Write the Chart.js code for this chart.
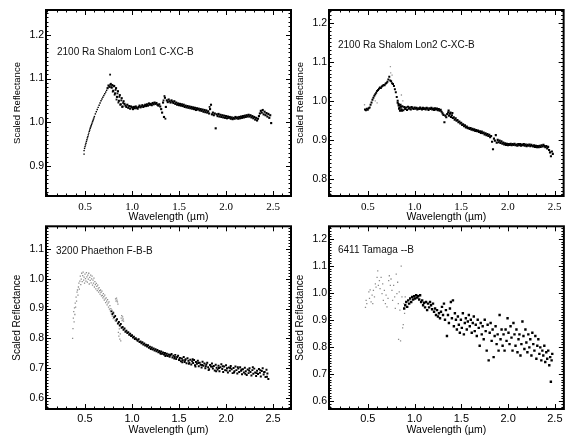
<!DOCTYPE html>
<html><head><meta charset="utf-8">
<script src="https://cdn.jsdelivr.net/npm/chart.js@4/dist/chart.umd.min.js"></script>
<style>
html,body{margin:0;padding:0;background:#fff;}
body{width:566px;height:435px;position:relative;overflow:hidden;}
canvas{position:absolute;}
</style></head><body>
<canvas id="p1" width="300" height="226" style="left:0px;top:0px"></canvas>
<canvas id="p2" width="283" height="226" style="left:283px;top:0px"></canvas>
<canvas id="p3" width="300" height="219" style="left:0px;top:218px"></canvas>
<canvas id="p4" width="283" height="219" style="left:283px;top:218px"></canvas>
<script>
// ---- tick labels ----
const xTicks = [0.5, 1.0, 1.5, 2.0, 2.5];
const p1YTicks = [0.9, 1.0, 1.1, 1.2];
const p2YTicks = [0.8, 0.9, 1.0, 1.1, 1.2];
const p3YTicks = [0.6, 0.7, 0.8, 0.9, 1.0, 1.1];
const p4YTicks = [0.6, 0.7, 0.8, 0.9, 1.0, 1.1, 1.2];
const labels = ["2100 Ra Shalom Lon1 C-XC-B", "2100 Ra Shalom Lon2 C-XC-B", "3200 Phaethon F-B-B", "6411 Tamaga --B"];

// ---- data: flat [wavelength, reflectance, ...] ----
const p1Vis = [0.49,0.935,0.49,0.927,0.495,0.940,0.50,0.944,0.505,0.948,0.51,0.952,0.515,0.956,0.52,0.960,0.525,0.964,0.53,0.967,0.535,0.971,0.54,0.975,0.545,0.979,0.55,0.982,0.555,0.986,0.56,0.989,0.565,0.992,0.57,0.995,0.575,0.998,0.58,1.001,0.585,1.004,0.59,1.007,0.595,1.010,0.60,1.013,0.61,1.019,0.62,1.024,0.63,1.029,0.64,1.034,0.65,1.039,0.66,1.044,0.67,1.049,0.68,1.053,0.69,1.057,0.70,1.061,0.71,1.065,0.72,1.069,0.73,1.073];
const p1Nir = [0.74,1.078,0.75,1.084,0.76,1.081,0.77,1.086,0.78,1.080,0.79,1.085,0.80,1.072,0.81,1.083,0.82,1.066,0.83,1.078,
0.84,1.058,0.85,1.071,0.86,1.049,0.87,1.062,0.88,1.041,0.89,1.055,0.90,1.036,0.91,1.048,0.92,1.042,0.93,1.038,
0.94,1.035,0.95,1.040,0.96,1.033,0.97,1.037,0.98,1.031,0.99,1.036,1.00,1.034,1.01,1.030,1.02,1.035,1.03,1.032,
1.04,1.036,1.05,1.033,1.06,1.031,1.07,1.035,1.08,1.038,1.09,1.034,1.10,1.036,1.11,1.039,1.12,1.035,1.13,1.037,
1.14,1.040,1.15,1.037,1.16,1.041,1.17,1.038,1.18,1.043,1.19,1.040,1.20,1.042,1.21,1.039,1.22,1.044,1.23,1.041,
1.24,1.045,1.25,1.042,1.26,1.044,1.27,1.040,1.28,1.038,1.29,1.041,1.30,1.036,1.31,1.030,1.32,1.022,1.33,1.045,
1.34,1.012,1.35,1.056,1.36,1.035,1.37,1.050,1.38,1.046,1.39,1.052,1.40,1.048,1.41,1.045,1.42,1.050,1.43,1.047,
1.44,1.044,1.45,1.048,1.46,1.042,1.47,1.045,1.48,1.040,1.49,1.043,1.50,1.039,1.51,1.042,1.52,1.038,1.53,1.041,
1.54,1.037,1.55,1.040,1.56,1.035,1.57,1.038,1.58,1.034,1.59,1.037,1.60,1.033,1.61,1.036,1.62,1.032,1.63,1.035,
1.64,1.031,1.65,1.034,1.66,1.030,1.67,1.033,1.68,1.028,1.69,1.032,1.70,1.029,1.71,1.031,1.72,1.027,1.73,1.030,
1.74,1.026,1.75,1.029,1.76,1.024,1.77,1.028,1.78,1.023,1.79,1.027,1.80,1.022,1.81,1.025,1.82,1.020,1.83,1.030,
1.84,1.040,1.85,1.018,1.86,1.022,1.87,1.016,1.88,1.020,1.89,0.986,1.90,1.018,1.91,1.014,1.92,1.019,1.93,1.013,
1.94,1.017,1.95,1.012,1.96,1.016,1.97,1.011,1.98,1.015,1.99,1.010,2.00,1.014,2.01,1.009,2.02,1.013,2.03,1.010,
2.04,1.012,2.05,1.008,2.06,1.011,2.07,1.007,2.08,1.010,2.09,1.008,2.10,1.012,2.11,1.009,2.12,1.011,2.13,1.008,
2.14,1.012,2.15,1.009,2.16,1.013,2.17,1.010,2.18,1.014,2.19,1.011,2.20,1.015,2.21,1.012,2.22,1.016,2.23,1.013,
2.24,1.017,2.25,1.013,2.26,1.016,2.27,1.011,2.28,1.014,2.29,1.009,2.30,1.012,2.31,1.006,2.32,1.010,2.33,1.004,
2.34,1.008,2.35,1.014,2.36,1.020,2.37,1.026,2.38,1.022,2.39,1.028,2.40,1.018,2.41,1.024,2.42,1.016,2.43,1.021,
2.44,1.013,2.45,1.019,2.46,1.010,2.47,1.016,2.48,0.998];
const p1Extra = [0.767,1.109,0.775,1.088,0.785,1.079,0.795,1.070,0.805,1.082,0.815,1.063,0.825,1.074,0.835,1.052,0.845,1.066,0.855,1.045,0.865,1.058,0.875,1.040,0.885,1.050,0.895,1.035,0.905,1.044,1.335,1.050,1.345,1.060,1.355,1.008,1.825,1.035];

const p2Vis = [0.47,0.978,0.48,0.976,0.49,0.980,0.50,0.977,0.51,0.981,0.52,0.983,0.53,0.990,0.54,0.996,0.55,1.003,0.56,1.008,0.57,1.013,0.58,1.017,0.59,1.021,0.60,1.025,0.61,1.028,0.62,1.031,0.63,1.034,0.64,1.033,0.65,1.037,0.66,1.039,0.67,1.041,0.68,1.040,0.69,1.044,0.70,1.046,0.71,1.049,0.72,1.055,0.73,1.062,0.74,1.052,0.75,1.050,0.76,1.045,0.77,1.043,0.78,1.038,0.79,1.030,0.80,1.022,0.81,1.010,0.82,1.000,0.83,0.992,0.84,0.988];
const p2Nir = [0.82,0.995,0.83,0.988,0.84,0.982,0.85,0.990,0.86,0.978,0.87,0.986,0.88,0.976,0.89,0.984,0.90,0.979,0.91,0.983,
0.92,0.977,0.93,0.985,0.94,0.980,0.95,0.983,0.96,0.978,0.97,0.984,0.98,0.981,0.99,0.979,1.00,0.983,1.01,0.980,
1.02,0.982,1.03,0.978,1.04,0.981,1.05,0.979,1.06,0.983,1.07,0.980,1.08,0.978,1.09,0.982,1.10,0.979,1.11,0.981,
1.12,0.978,1.13,0.982,1.14,0.980,1.15,0.977,1.16,0.981,1.17,0.979,1.18,0.982,1.19,0.978,1.20,0.980,1.21,0.977,
1.22,0.981,1.23,0.978,1.24,0.980,1.25,0.976,1.26,0.979,1.27,0.975,1.28,0.977,1.29,0.972,1.30,0.968,1.31,0.964,
1.32,0.945,1.33,0.962,1.34,0.958,1.35,0.966,1.36,0.970,1.37,0.962,1.38,0.967,1.39,0.959,1.40,0.963,1.41,0.956,
1.42,0.958,1.43,0.952,1.44,0.955,1.45,0.949,1.46,0.951,1.47,0.945,1.48,0.947,1.49,0.942,1.50,0.944,1.51,0.938,
1.52,0.940,1.53,0.935,1.54,0.937,1.55,0.932,1.56,0.934,1.57,0.930,1.58,0.931,1.59,0.928,1.60,0.930,1.61,0.926,
1.62,0.928,1.63,0.925,1.64,0.927,1.65,0.923,1.66,0.925,1.67,0.922,1.68,0.924,1.69,0.920,1.70,0.922,1.71,0.918,
1.72,0.921,1.73,0.917,1.74,0.919,1.75,0.914,1.76,0.917,1.77,0.912,1.78,0.915,1.79,0.910,1.80,0.913,1.81,0.907,
1.82,0.910,1.83,0.895,1.84,0.876,1.85,0.903,1.86,0.898,1.87,0.912,1.88,0.893,1.89,0.900,1.90,0.894,1.91,0.898,
1.92,0.892,1.93,0.896,1.94,0.890,1.95,0.893,1.96,0.888,1.97,0.891,1.98,0.887,1.99,0.890,2.00,0.886,2.01,0.889,
2.02,0.887,2.03,0.890,2.04,0.886,2.05,0.889,2.06,0.887,2.07,0.890,2.08,0.886,2.09,0.888,2.10,0.885,2.11,0.889,
2.12,0.886,2.13,0.889,2.14,0.885,2.15,0.888,2.16,0.886,2.17,0.889,2.18,0.885,2.19,0.888,2.20,0.884,2.21,0.887,
2.22,0.885,2.23,0.888,2.24,0.884,2.25,0.887,2.26,0.885,2.27,0.883,2.28,0.886,2.29,0.882,2.30,0.885,2.31,0.881,
2.32,0.884,2.33,0.881,2.34,0.885,2.35,0.882,2.36,0.886,2.37,0.883,2.38,0.887,2.39,0.884,2.40,0.881,2.41,0.884,
2.42,0.878,2.43,0.882,2.44,0.874,2.45,0.868,2.46,0.858,2.47,0.870,2.48,0.864,
0.845,0.975,0.855,0.985,0.865,0.975,0.835,0.980,1.365,0.975,1.385,0.970,1.405,0.969];
const p2Gray = [0.465,0.990,0.742,1.088,0.745,1.072,0.76,1.066,0.86,1.015,0.875,1.000,0.60,0.995,0.58,1.000];

const p3Vis = [0.368,0.800,0.372,0.833,0.376,0.868,0.380,0.890,0.384,0.855,0.388,0.902,0.392,0.880,0.396,0.918,0.40,0.905,0.405,0.938,0.41,0.925,0.415,0.955,0.42,0.962,0.425,0.945,0.43,0.972,0.435,0.985,0.44,0.965,0.445,0.992,0.45,1.008,0.455,0.980,0.46,0.998,0.465,1.018,0.47,0.990,0.475,1.010,0.48,1.022,0.485,0.995,0.49,1.005,0.495,0.985,0.50,1.015,0.505,1.000,0.51,0.992,0.515,1.020,0.52,1.006,0.525,0.988,0.53,1.012,0.535,0.998,0.54,1.018,0.545,0.982,0.55,1.004,0.555,0.994,0.56,1.012,0.565,0.986,0.57,0.999,0.575,1.008,0.58,0.978,0.585,0.995,0.59,0.985,0.595,1.002,0.60,0.972,0.605,0.990,0.61,0.980,0.615,0.966,0.62,0.984,0.625,0.974,0.63,0.960,0.635,0.978,0.64,0.966,0.645,0.955,0.65,0.970,0.655,0.960,0.66,0.948,0.665,0.962,0.67,0.954,0.675,0.942,0.68,0.958,0.685,0.944,0.69,0.936,0.695,0.950,0.70,0.940,0.705,0.928,0.71,0.945,0.715,0.932,0.72,0.920,0.725,0.936,0.73,0.925,0.735,0.912,0.74,0.930,0.745,0.918,0.75,0.905,0.755,0.922,0.76,0.898,0.765,0.910,0.77,0.892,0.775,0.900,0.78,0.882,0.785,0.895,0.79,0.875,0.795,0.888,0.80,0.866,0.81,0.878,0.82,0.860,0.825,0.932,0.83,0.925,0.835,0.935,0.84,0.928,0.845,0.922,0.85,0.915,0.855,0.820,0.86,0.808,0.865,0.832,0.87,0.798,0.875,0.815,0.88,0.792,0.885,0.868,0.89,0.876,0.895,0.860,0.90,0.872,0.905,0.865,0.91,0.858];
const p3Nir = [0.78,0.891,0.79,0.882,0.80,0.886,0.81,0.871,0.82,0.875,0.83,0.860,0.84,0.864,0.85,0.850,0.86,0.855,0.87,0.843,
0.88,0.848,0.89,0.836,0.90,0.838,0.91,0.829,0.92,0.833,0.93,0.822,0.94,0.826,0.95,0.818,0.96,0.821,0.97,0.812,
0.98,0.816,0.99,0.808,1.00,0.811,1.01,0.803,1.02,0.806,1.03,0.798,1.04,0.801,1.05,0.796,1.06,0.792,1.07,0.797,
1.08,0.788,1.09,0.790,1.10,0.784,1.11,0.787,1.12,0.780,1.13,0.783,1.14,0.776,1.15,0.779,1.16,0.773,1.17,0.777,
1.18,0.769,1.19,0.772,1.20,0.765,1.21,0.770,1.22,0.763,1.23,0.766,1.24,0.760,1.25,0.764,1.26,0.757,1.27,0.761,
1.28,0.754,1.29,0.758,1.30,0.752,1.31,0.756,1.32,0.749,1.33,0.753,1.34,0.746,1.35,0.751,1.36,0.744,1.37,0.749,
1.38,0.741,1.39,0.746,1.40,0.739,1.41,0.744,1.42,0.748,1.43,0.736,1.44,0.742,1.45,0.733,1.46,0.745,1.47,0.731,
1.48,0.738,1.49,0.742,1.50,0.728,1.51,0.735,1.52,0.724,1.53,0.733,1.54,0.727,1.55,0.738,1.56,0.721,1.57,0.730,
1.58,0.717,1.59,0.734,1.60,0.725,1.61,0.719,1.62,0.729,1.63,0.713,1.64,0.724,1.65,0.718,1.66,0.728,1.67,0.710,
1.68,0.721,1.69,0.715,1.70,0.725,1.71,0.707,1.72,0.719,1.73,0.712,1.74,0.703,1.75,0.722,1.76,0.709,1.77,0.716,
1.78,0.700,1.79,0.713,1.80,0.719,1.81,0.704,1.82,0.697,1.83,0.711,1.84,0.706,1.85,0.716,1.86,0.699,1.87,0.708,
1.88,0.693,1.89,0.712,1.90,0.702,1.91,0.696,1.92,0.709,1.93,0.690,1.94,0.704,1.95,0.714,1.96,0.698,1.97,0.688,
1.98,0.706,1.99,0.694,2.00,0.710,2.01,0.700,2.02,0.686,2.03,0.703,2.04,0.692,2.05,0.708,2.06,0.697,2.07,0.684,
2.08,0.701,2.09,0.690,2.10,0.706,2.11,0.694,2.12,0.683,2.13,0.699,2.14,0.688,2.15,0.704,2.16,0.692,2.17,0.680,
2.18,0.697,2.19,0.686,2.20,0.702,2.21,0.690,2.22,0.678,2.23,0.696,2.24,0.684,2.25,0.700,2.26,0.688,2.27,0.676,
2.28,0.694,2.29,0.682,2.30,0.699,2.31,0.686,2.32,0.674,2.33,0.692,2.34,0.681,2.35,0.698,2.36,0.685,2.37,0.673,
2.38,0.691,2.39,0.700,2.40,0.679,2.41,0.688,2.42,0.671,2.43,0.695,2.44,0.683,2.45,0.664,
1.305,0.749,1.355,0.741,1.405,0.745,1.455,0.738,1.505,0.732,1.535,0.720,1.565,0.727,1.605,0.715,1.645,0.730,1.675,0.706,
1.705,0.718,1.745,0.711,1.785,0.707,1.815,0.694,1.855,0.705,1.895,0.690,1.925,0.701,1.965,0.707,2.005,0.693,2.045,0.701,
2.085,0.686,2.125,0.704,2.165,0.696,2.205,0.682,2.245,0.693,2.285,0.704,2.325,0.684,2.365,0.694,2.405,0.687,2.435,0.672];

const p4Vis = [0.475,0.947,0.482,0.973,0.489,0.961,0.511,1.004,0.518,0.980,0.525,1.012,0.535,0.967,0.546,0.992,0.553,0.961,0.560,1.010,0.571,0.986,0.581,1.034,0.588,1.022,0.599,1.058,0.606,1.082,0.613,1.028,0.624,1.046,0.631,1.016,0.642,1.058,0.652,0.998,0.659,1.034,0.666,0.973,0.677,1.010,0.688,0.961,0.695,0.992,0.705,0.949,0.716,0.980,0.723,1.046,0.730,1.064,0.741,1.028,0.748,1.052,0.758,1.010,0.765,0.973,0.776,1.028,0.787,0.986,0.794,0.943,0.804,1.070,0.811,0.998,0.819,1.040,0.826,0.961,0.829,0.829,0.836,1.004,0.843,0.937,0.850,0.823,0.857,1.100,0.865,0.986,0.872,0.871,0.879,0.883,0.886,0.961,0.893,0.925,0.900,0.986];
const p4Nir = [0.889,0.943,0.900,0.955,0.911,0.967,0.921,0.949,0.932,0.973,0.942,0.961,0.953,0.980,0.964,0.967,0.974,0.986,0.985,0.976,
0.996,0.988,1.006,0.980,1.017,0.992,1.027,0.983,1.038,0.988,1.049,0.976,1.059,0.992,1.070,0.967,1.081,0.973,1.091,0.955,
1.102,0.964,1.112,0.947,1.123,0.967,1.134,0.937,1.144,0.961,1.155,0.947,1.165,0.967,1.176,0.955,1.187,0.940,1.197,0.961,
1.208,0.931,1.219,0.943,1.229,0.919,1.240,0.937,1.250,0.913,1.261,0.925,1.272,0.907,1.282,0.931,1.293,0.949,1.304,0.919,
1.314,0.961,1.325,0.901,1.335,0.937,1.346,0.841,1.357,0.919,1.367,0.889,1.378,0.943,1.388,0.967,1.399,0.907,1.410,0.973,
1.420,0.877,1.431,0.925,1.442,0.901,1.452,0.865,1.463,0.913,1.473,0.883,1.484,0.853,1.495,0.901,1.505,0.871,1.516,0.925,
1.527,0.847,1.537,0.889,1.548,0.907,1.558,0.865,1.569,0.895,1.580,0.919,1.590,0.877,1.601,0.901,1.611,0.853,1.622,0.889,
1.633,0.913,1.643,0.859,1.654,0.883,1.665,0.841,1.675,0.901,1.686,0.871,1.696,0.805,1.707,0.889,1.718,0.847,1.728,0.877,
1.739,0.829,1.750,0.901,1.760,0.859,1.771,0.787,1.781,0.883,1.792,0.751,1.803,0.853,1.813,0.889,1.824,0.823,1.834,0.865,
1.845,0.763,1.856,0.841,1.866,0.877,1.877,0.811,1.888,0.847,1.898,0.787,1.909,0.919,1.919,0.829,1.930,0.865,1.941,0.805,
1.951,0.847,1.962,0.787,1.973,0.865,1.983,0.823,1.994,0.907,2.004,0.853,2.015,0.811,2.026,0.877,2.036,0.835,2.047,0.787,
2.057,0.889,2.068,0.847,2.079,0.805,2.089,0.865,2.100,0.781,2.111,0.829,2.121,0.847,2.132,0.769,2.142,0.811,2.153,0.895,
2.164,0.841,2.174,0.793,2.185,0.865,2.195,0.817,2.206,0.781,2.216,0.847,2.227,0.799,2.237,0.829,2.249,0.769,2.259,0.853,
2.269,0.811,2.281,0.787,2.291,0.841,2.302,0.757,2.312,0.805,2.323,0.829,2.334,0.775,2.344,0.799,2.355,0.751,2.366,0.787,
2.376,0.769,2.387,0.805,2.397,0.745,2.408,0.781,2.418,0.757,2.429,0.787,2.440,0.733,2.450,0.763,2.457,0.672,2.465,0.751,2.472,0.775];

// ---- helpers ----
function pts(a){const r=[];for(let i=0;i<a.length;i+=2)r.push({x:a[i],y:a[i+1]});return r;}

const framePlugin = {
  id:'frame',
  beforeDraw(chart){
    const a=chart.chartArea, ctx=chart.ctx;
    ctx.save(); ctx.fillStyle='#fff';
    ctx.fillRect(a.left,a.top,a.right-a.left,a.bottom-a.top);
    ctx.restore();
  },
  afterDraw(chart){
    const o=chart.options.plugins.frame, a=chart.chartArea, ctx=chart.ctx;
    const xs=chart.scales.x, ys=chart.scales.y;
    ctx.save();
    ctx.strokeStyle='#000'; ctx.lineWidth=1;
    ctx.beginPath();
    for(let k=Math.ceil(xs.min*10-1e-6);k<=Math.floor(xs.max*10+1e-6);k++){
      const px=Math.round(xs.getPixelForValue(k/10))+0.5;
      const L=(k%5===0)?5:2.5;
      ctx.moveTo(px,a.bottom); ctx.lineTo(px,a.bottom-L);
      ctx.moveTo(px,a.top); ctx.lineTo(px,a.top+L);
    }
    for(let k=Math.ceil(ys.min*100-1e-6);k<=Math.floor(ys.max*100+1e-6);k++){
      const py=Math.round(ys.getPixelForValue(k/100))+0.5;
      const L=(k%10===0)?5:2.5;
      ctx.moveTo(a.left,py); ctx.lineTo(a.left+L,py);
      ctx.moveTo(a.right,py); ctx.lineTo(a.right-L,py);
    }
    ctx.stroke();
    ctx.lineWidth=2;
    ctx.strokeRect(a.left,a.top,a.right-a.left,a.bottom-a.top);
    ctx.fillStyle='#111'; ctx.textBaseline='middle'; ctx.textAlign='left';
    ctx.font='10px "Liberation Sans", Arial, sans-serif';
    ctx.fillText(o.label,a.left+o.dx,a.top+o.dy);
    ctx.restore();
  }
};

function makeChart(id, sets, cfg){
  return new Chart(document.getElementById(id), {
    type:'scatter',
    data:{datasets:sets.map(s=>({data:pts(s.d),pointStyle:'rect',pointRadius:s.r,pointHoverRadius:s.r,pointBorderWidth:0,borderWidth:0,backgroundColor:s.c,borderColor:s.c,showLine:false}))},
    options:{
      responsive:false, animation:false, devicePixelRatio:1, events:[],
      layout:{padding:{top:cfg.padTop,right:cfg.padRight,left:0,bottom:0}},
      plugins:{legend:{display:false},tooltip:{enabled:false},frame:{label:cfg.label,dx:cfg.dx,dy:cfg.dy}},
      scales:{
        x:{type:'linear',position:'bottom',min:cfg.xMin,max:cfg.xMax,
          grid:{display:false,drawTicks:false},border:{display:false},
          afterBuildTicks:s=>{s.ticks=xTicks.map(v=>({value:v}));},
          afterFit:s=>{s.height=cfg.xH;},
          ticks:{padding:cfg.xTickPad,color:'#000',maxRotation:0,autoSkip:false,
            font:{family:cfg.xFont,size:11},callback:v=>Number(v).toFixed(1)},
          title:{display:true,text:'Wavelength (µm)',color:'#000',
            font:{family:'"Liberation Sans", Arial, sans-serif',size:10.5},padding:{top:0,bottom:cfg.xTitlePad}}},
        y:{type:'linear',position:'left',min:cfg.yMin,max:cfg.yMax,
          grid:{display:false,drawTicks:false},border:{display:false},
          afterBuildTicks:s=>{s.ticks=cfg.yTicks.map(v=>({value:v}));},
          afterFit:s=>{s.width=46;},
          ticks:{padding:2,color:'#000',font:{family:'"Liberation Sans", Arial, sans-serif',size:10.5},callback:v=>Number(v).toFixed(1)},
          title:{display:true,text:'Scaled Reflectance',color:'#000',
            font:{family:'"Liberation Sans", Arial, sans-serif',size:cfg.yTitleSize},padding:{top:cfg.yTitlePad,bottom:0}}}
      }
    },
    plugins:[framePlugin]
  });
}

const serif='"Liberation Serif", "Times New Roman", serif';
const sans='"Liberation Sans", Arial, sans-serif';

makeChart('p1',[{d:p1Vis,r:1.0,c:'#000'},{d:p1Nir,r:1.5,c:'#000'},{d:p1Extra,r:1.3,c:'#111'}],
  {xMin:0.085,xMax:2.691,yMin:0.831,yMax:1.257,yTicks:p1YTicks,padTop:10,padRight:9,xH:30,xTickPad:4.4,xTitlePad:3,xFont:serif,yTitleSize:9.5,yTitlePad:12,label:labels[0],dx:11,dy:42});
makeChart('p2',[{d:p2Gray,r:0.9,c:'#999'},{d:p2Vis,r:1.4,c:'#000'},{d:p2Nir,r:1.5,c:'#000'}],
  {xMin:0.085,xMax:2.596,yMin:0.756,yMax:1.233,yTicks:p2YTicks,padTop:10,padRight:1,xH:30,xTickPad:4.4,xTitlePad:3,xFont:serif,yTitleSize:9.5,yTitlePad:12,label:labels[1],dx:9,dy:35});
makeChart('p3',[{d:p3Vis,r:0.9,c:'#8c8c8c'},{d:p3Nir,r:1.4,c:'#000'}],
  {xMin:0.085,xMax:2.691,yMin:0.564,yMax:1.175,yTicks:p3YTicks,padTop:4,padRight:9,xH:28,xTickPad:3.4,xTitlePad:0.7,xFont:sans,yTitleSize:10,yTitlePad:11.5,label:labels[2],dx:10,dy:25});
makeChart('p4',[{d:p4Vis,r:0.9,c:'#8c8c8c'},{d:p4Nir,r:1.7,c:'#000'}],
  {xMin:0.085,xMax:2.596,yMin:0.571,yMax:1.247,yTicks:p4YTicks,padTop:4,padRight:1,xH:28,xTickPad:3.4,xTitlePad:0.7,xFont:sans,yTitleSize:10,yTitlePad:11.5,label:labels[3],dx:9,dy:24});
</script>
</body></html>
